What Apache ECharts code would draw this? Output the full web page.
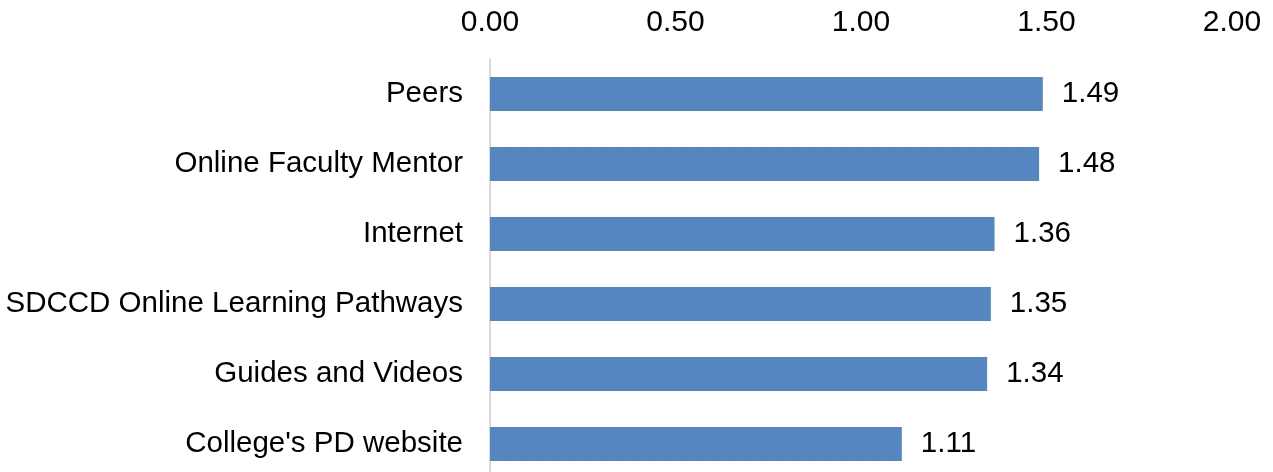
<!DOCTYPE html>
<html>
<head>
<meta charset="utf-8">
<script src="https://cdn.jsdelivr.net/npm/echarts@6/dist/echarts.min.js"></script>
<style>
html,body{margin:0;padding:0;background:#fff;overflow:hidden;}
#c{width:1273px;height:479px;}
</style>
</head>
<body>
<div id="c"></div>
<script>
const categories = ["Peers", "Online Faculty Mentor", "Internet", "SDCCD Online Learning Pathways", "Guides and Videos", "College's PD website"];
const values = [1.49, 1.48, 1.36, 1.35, 1.34, 1.11];
const xTicks = { min: 0, max: 2, interval: 0.5 };

const chart = echarts.init(document.getElementById('c'), null, { renderer: 'canvas' });
const font = 'Liberation Sans, Arial, sans-serif';
chart.setOption({
  animation: false,
  backgroundColor: '#ffffff',
  grid: { left: 490, right: 41, top: 59, bottom: 0, containLabel: false },
  xAxis: {
    type: 'value',
    position: 'top',
    min: xTicks.min, max: xTicks.max, interval: xTicks.interval,
    axisLine: { show: false },
    axisTick: { show: false },
    splitLine: { show: false },
    axisLabel: {
      formatter: v => v.toFixed(2),
      fontFamily: font, fontSize: 30, color: '#000', margin: 21
    }
  },
  yAxis: {
    type: 'category',
    data: categories,
    inverse: true,
    axisLine: { show: true, lineStyle: { color: '#d9d9d9', width: 2 } },
    axisTick: { show: false },
    axisLabel: { fontFamily: font, fontSize: 29.5, color: '#000', margin: 27 }
  },
  series: [{
    type: 'bar',
    data: values,
    barWidth: 34,
    itemStyle: { color: '#5586c1' },
    label: {
      show: true, position: 'right', distance: 19,
      formatter: p => p.value.toFixed(2),
      fontFamily: font, fontSize: 29.5, color: '#000'
    }
  }]
});
</script>
</body>
</html>
